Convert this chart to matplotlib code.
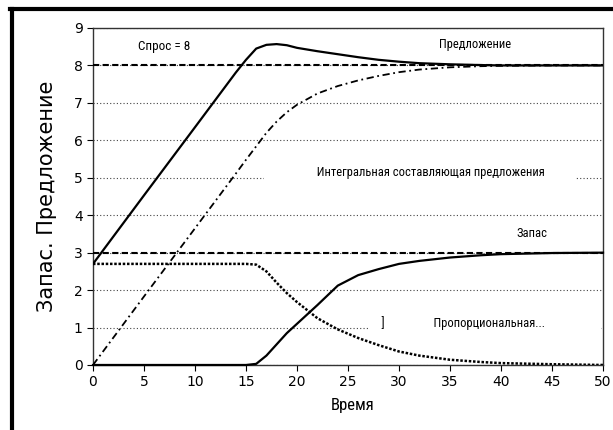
import numpy as np
import matplotlib.pyplot as plt
from matplotlib.lines import Line2D

# Время (шаги модели)
t = [0, 5, 10, 14, 15, 16, 17, 18, 19, 20, 22, 24, 26, 28, 30, 32, 35, 38, 40, 45, 50]

# Предложение
predl = [2.7, 4.53, 6.35, 7.81, 8.15, 8.45, 8.55, 8.57, 8.54, 8.47, 8.38, 8.3, 8.22,
         8.15, 8.1, 8.06, 8.03, 8.01, 8.0, 8.0, 8.0]
# Интегральная составляющая предложения
integr = [0.0, 1.83, 3.65, 5.11, 5.48, 5.84, 6.2, 6.5, 6.75, 6.95, 7.25, 7.45, 7.6,
          7.72, 7.82, 7.89, 7.95, 7.98, 7.99, 8.0, 8.0]
# Пропорциональная составляющая
prop = [2.7, 2.7, 2.7, 2.7, 2.7, 2.68, 2.5, 2.2, 1.92, 1.68, 1.25, 0.95, 0.72,
        0.53, 0.36, 0.25, 0.14, 0.08, 0.05, 0.02, 0.0]
# Запас
zapas = [0.0, 0.0, 0.0, 0.0, 0.0, 0.03, 0.25, 0.55, 0.85, 1.1, 1.6, 2.12, 2.4,
         2.56, 2.7, 2.78, 2.87, 2.93, 2.96, 2.99, 3.0]

spros = 8          # Спрос
zapas_cel = 3      # желаемый запас

xticks = list(range(0, 51, 5))
yticks = list(range(0, 10))

narrow = ['Roboto Condensed', 'DejaVu Sans']

fig = plt.figure(figsize=(6.13, 4.30), dpi=100)
ax = fig.add_axes([0.1517, 0.1512, 0.832, 0.7837])

# horizontal dotted grid
ax.set_yticks(yticks)
ax.set_xticks(xticks)
ax.yaxis.grid(True, color='#444444', linestyle=(0, (1, 2)), linewidth=0.8, zorder=0.5)
ax.set_axisbelow(True)

# target lines
ax.axhline(spros, color='black', lw=1.5, linestyle=(0, (3, 1.6)), zorder=3)
ax.axhline(zapas_cel, color='black', lw=1.5, linestyle=(0, (3, 1.6)), zorder=3)

# series
ax.plot(t, integr, color='black', lw=1.3, linestyle=(0, (4, 2, 1, 2)), zorder=3)
ax.plot(t, prop, color='black', lw=1.8, linestyle=(0, (1, 0.7)), zorder=3)
ax.plot(t, zapas, color='black', lw=1.6, zorder=4, clip_on=False)
ax.plot(t, predl, color='black', lw=1.6, zorder=4)

ax.set_xlim(0, 50)
ax.set_ylim(0, 9)

# labels in plot (spaces widen the white box over the grid)
box = dict(facecolor='white', edgecolor='none', pad=1)
ax.text(7.0, 8.5, 'Спрос = 8', family=narrow, fontsize=9.5, ha='center', va='center', bbox=box, zorder=2)
ax.text(37.5, 8.55, 'Предложение', family=narrow, fontsize=9, ha='center', va='center', bbox=box, zorder=2)
ax.text(16.9, 5.15, ' ' * 18 + 'Интегральная составляющая предложения' + ' ' * 10,
        family=narrow, fontsize=9, ha='left', va='center', bbox=box, zorder=2)
ax.text(43.0, 3.5, 'Запас', family=narrow, fontsize=9, ha='center', va='center', bbox=box, zorder=2)
ax.text(27.2, 1.12, ' ' * 4 + ']' + ' ' * 17 + 'Пропорциональная...' + ' ' * 19,
        family=narrow, fontsize=9, ha='left', va='center', bbox=box, zorder=2)

ax.set_xlabel('Время', family=narrow, fontsize=12)
ax.set_ylabel('Запас. Предложение', family='DejaVu Sans', fontsize=15)
ax.xaxis.label.set_va('center')
ax.xaxis.set_label_coords(0.51, -0.119)
ax.yaxis.set_label_coords(-0.071, 0.5)

ax.tick_params(labelsize=10, colors='black', length=4, width=0.8)
for s in ax.spines.values():
    s.set_color('#333333')
    s.set_linewidth(1.0)

# thick frame on top and left of the picture
fig.add_artist(Line2D([0.0163, 1.0], [0.979, 0.979], color='black', lw=3.0, transform=fig.transFigure))
fig.add_artist(Line2D([0.0196, 0.0196], [0.0, 0.979], color='black', lw=3.0, transform=fig.transFigure))

fig.savefig('out.png', dpi=100, facecolor='white')
